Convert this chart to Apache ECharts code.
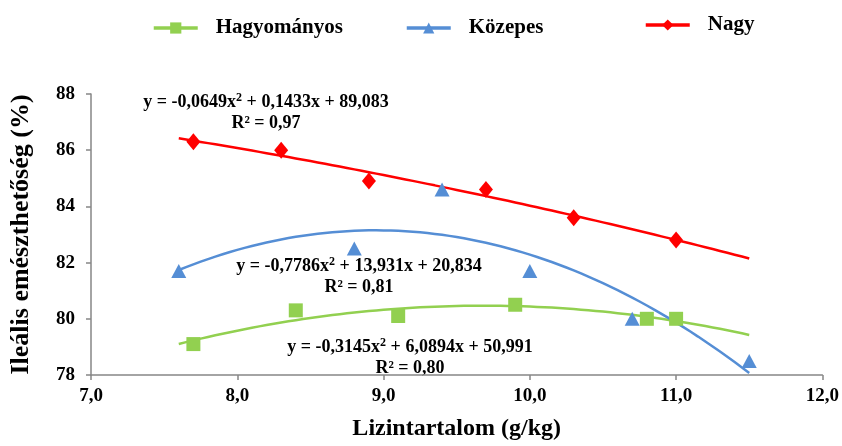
<!DOCTYPE html>
<html>
<head>
<meta charset="utf-8">
<script src="https://cdn.jsdelivr.net/npm/echarts@6/dist/echarts.min.js"></script>
<style>html,body{margin:0;padding:0;background:#fff}#c{width:842px;height:446px}</style>
</head>
<body>
<div id="c"></div>
<script>
// ---- data ----
const seriesNames = ['Hagyományos', 'Közepes', 'Nagy'];
const hagyX = [7.7, 8.4, 9.1, 9.9, 10.8, 11.0];
const hagyY = [79.1, 80.3, 80.1, 80.5, 80.0, 80.0];
const kozX = [7.6, 8.8, 9.4, 10.0, 10.7, 11.5];
const kozY = [81.7, 82.5, 84.6, 81.7, 80.0, 78.5];
const nagyX = [7.7, 8.3, 8.9, 9.7, 10.3, 11.0];
const nagyY = [86.3, 86.0, 84.9, 84.6, 83.6, 82.8];
// trendline coefficients printed on the chart (a, b, c for y = a x^2 + b x + c)
const trendHagy = [-0.3145, 6.0894, 50.991];
const trendKoz = [-0.7786, 13.931, 20.834];
const trendNagy = [-0.0649, 0.1433, 89.083];
const trendRange = [7.6, 11.5];
const eqHagy = ['y = -0,3145x', ' + 6,0894x + 50,991', 'R² = 0,80'];
const eqKoz = ['y = -0,7786x', ' + 13,931x + 20,834', 'R² = 0,81'];
const eqNagy = ['y = -0,0649x', ' + 0,1433x + 89,083', 'R² = 0,97'];
const xTicks = [7, 8, 9, 10, 11, 12];
const yTicks = [78, 80, 82, 84, 86, 88];

function pts(xs, ys) { return xs.map((x, i) => [x, ys[i]]); }
function trend(c) {
  const out = [];
  const n = 78;
  for (let i = 0; i <= n; i++) {
    const x = trendRange[0] + (trendRange[1] - trendRange[0]) * i / n;
    out.push([x, c[0] * x * x + c[1] * x + c[2]]);
  }
  return out;
}

const FONT = '"Liberation Serif", "Times New Roman", serif';
const cGreen = '#92D050', cBlue = '#558ED5', cRed = '#FF0000';
const axisCol = '#868686';

function eqText(eq, x, y) {
  return [{
    type: 'text', x: x, y: y,
    style: {
      text: '{m|' + eq[0] + '}{s|2}{m|' + eq[1] + '}',
      align: 'center', verticalAlign: 'middle',
      rich: {
        m: { fontFamily: FONT, fontWeight: 'bold', fontSize: 18, fill: '#000', lineHeight: 20 },
        s: { fontFamily: FONT, fontWeight: 'bold', fontSize: 12, fill: '#000', lineHeight: 20, verticalAlign: 'top', padding: [0, 0, 6, 0] }
      }
    }
  }, {
    type: 'text', x: x, y: y + 21,
    style: {
      text: eq[2], align: 'center', verticalAlign: 'middle',
      fontFamily: FONT, fontWeight: 'bold', fontSize: 18, fill: '#000'
    }
  }];
}

function legendAt(name, left, top) {
  return {
    data: [name], left: left, top: top, itemWidth: 44, itemHeight: 14, padding: 0,
    selectedMode: false,
    lineStyle: { width: 3.5 },
    textStyle: { fontFamily: FONT, fontWeight: 'bold', fontSize: 21, color: '#000', padding: [0, 0, 0, 13], lineHeight: 24 }
  };
}

const chart = echarts.init(document.getElementById('c'), null, { renderer: 'canvas' });
chart.setOption({
  animation: false,
  backgroundColor: '#fff',
  legend: [
    legendAt(seriesNames[0], 152, 16),
    legendAt(seriesNames[1], 405, 16),
    legendAt(seriesNames[2], 644, 13)
  ],
  grid: { left: 80, right: 19, top: 94, bottom: 64, containLabel: false },
  xAxis: {
    type: 'value', min: xTicks[0], max: xTicks[xTicks.length - 1], interval: 1,
    name: 'Lizintartalom (g/kg)', nameLocation: 'middle', nameGap: 42,
    nameTextStyle: { fontFamily: FONT, fontWeight: 'bold', fontSize: 24, color: '#000' },
    axisLine: { show: true, lineStyle: { color: axisCol, width: 1.5 } },
    axisTick: { show: true, length: 5, lineStyle: { color: axisCol, width: 1.5 } },
    axisLabel: { fontFamily: FONT, fontWeight: 'bold', fontSize: 19, color: '#000', margin: 12,
      formatter: v => v.toFixed(1).replace('.', ',') },
    splitLine: { show: false }
  },
  yAxis: {
    type: 'value', min: yTicks[0], max: yTicks[yTicks.length - 1], interval: 2,
    name: 'Ileális emészthetőség (%)', nameLocation: 'middle', nameGap: 57,
    nameTextStyle: { fontFamily: FONT, fontWeight: 'bold', fontSize: 26, color: '#000' },
    axisLine: { show: true, lineStyle: { color: axisCol, width: 1.5 } },
    axisTick: { show: true, length: 5, lineStyle: { color: axisCol, width: 1.5 } },
    axisLabel: { fontFamily: FONT, fontWeight: 'bold', fontSize: 19, color: '#000', margin: 16 },
    splitLine: { show: false }
  },
  series: [
    { name: seriesNames[0], type: 'line', data: trend(trendHagy), smooth: false, showSymbol: false,
      symbol: 'rect', symbolSize: 12, color: cGreen, lineStyle: { color: cGreen, width: 2.5 }, z: 2, silent: true },
    { name: seriesNames[1], type: 'line', data: trend(trendKoz), smooth: false, showSymbol: false,
      symbol: 'triangle', symbolSize: [14, 13], color: cBlue, lineStyle: { color: cBlue, width: 2.5 }, z: 2, silent: true },
    { name: seriesNames[2], type: 'line', data: trend(trendNagy), smooth: false, showSymbol: false,
      symbol: 'diamond', symbolSize: [12, 15], color: cRed, lineStyle: { color: cRed, width: 2.5 }, z: 2, silent: true },
    { name: seriesNames[0], type: 'scatter', data: pts(hagyX, hagyY), symbol: 'rect', symbolSize: 14,
      itemStyle: { color: cGreen, opacity: 1 }, z: 5 },
    { name: seriesNames[1], type: 'scatter', data: pts(kozX, kozY), symbol: 'triangle', symbolSize: [15, 14],
      itemStyle: { color: cBlue, opacity: 1 }, z: 5 },
    { name: seriesNames[2], type: 'scatter', data: pts(nagyX, nagyY), symbol: 'diamond', symbolSize: [14, 17],
      itemStyle: { color: cRed, opacity: 1 }, z: 5 }
  ],
  graphic: [].concat(
    eqText(eqNagy, 266, 102),
    eqText(eqKoz, 359, 266),
    eqText(eqHagy, 410, 347)
  )
});
</script>
</body>
</html>
